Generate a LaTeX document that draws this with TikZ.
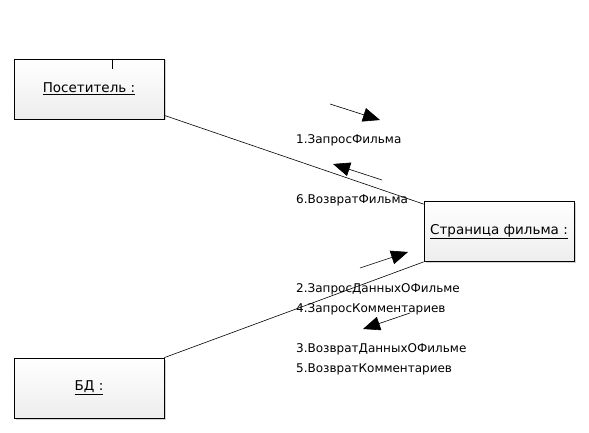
\documentclass[tikz,border=0pt]{standalone}
\usepackage{fontspec}
\setmainfont{DejaVu Sans}
\usetikzlibrary{arrows.meta,shadows}

\begin{document}
\begin{tikzpicture}[x=1pt,y=-1pt]
		\tikzstyle{every node}=[font=\fontsize{12}{14}\selectfont]
		\tikzstyle{obj}=[draw=black,line width=0.8pt,minimum width=150pt,minimum height=60pt,
			top color=white,bottom color=gray!14,font=\fontsize{13.5}{16}\selectfont,
			drop shadow={shadow xshift=1.5pt,shadow yshift=-1.5pt,opacity=0.35}]
		\tikzstyle{msg}=[anchor=west,inner sep=0pt]
		\tikzstyle{link}=[draw=black,line width=0.6pt]
		\tikzstyle{dir}=[draw=black,line width=0.6pt,-{Triangle[length=17pt,width=14pt]}]
		\useasboundingbox (0,0) rectangle (589,433);
		% objects
		\node[obj] (pos) at (89,89) {\underline{Посетитель :}};
		\node[obj] (page) at (499,231.5) {\underline{Страница фильма :}};
		\node[obj] (bd) at (89,388) {\underline{БД :}};
		\draw[line width=0.8pt] ([xshift=23pt]pos.north) -- ++(0,10);
		% links
		\draw[link] ([yshift=4pt]pos.south east) -- ([yshift=-3pt]page.north west);
		\draw[link] (bd.north east) -- (page.south west);
		% messages
		\coordinate (a1s) at (330,104); \coordinate (a1e) at (380,120);
		\coordinate (a6s) at (382,180); \coordinate (a6e) at (333,164);
		\coordinate (a2s) at (360,268); \coordinate (a2e) at (408,252);
		\coordinate (a3s) at (410,313); \coordinate (a3e) at (363,329);
		\draw[dir] (a1s) -- (a1e);
		\draw[dir] (a6s) -- (a6e);
		\draw[dir] (a2s) -- (a2e);
		\draw[dir] (a3s) -- (a3e);
		\node[msg] (m1) at (296,140) {1.ЗапросФильма};
		\node[msg] (m6) at (296,200) {6.ВозвратФильма};
		\node[msg] (m2) at (296,289) {2.ЗапросДанныхОФильме};
		\node[msg] (m4) at (296,309) {4.ЗапросКомментариев};
		\node[msg] (m3) at (296,349) {3.ВозвратДанныхОФильме};
		\node[msg] (m5) at (296,369) {5.ВозвратКомментариев};
\end{tikzpicture}
\end{document}
